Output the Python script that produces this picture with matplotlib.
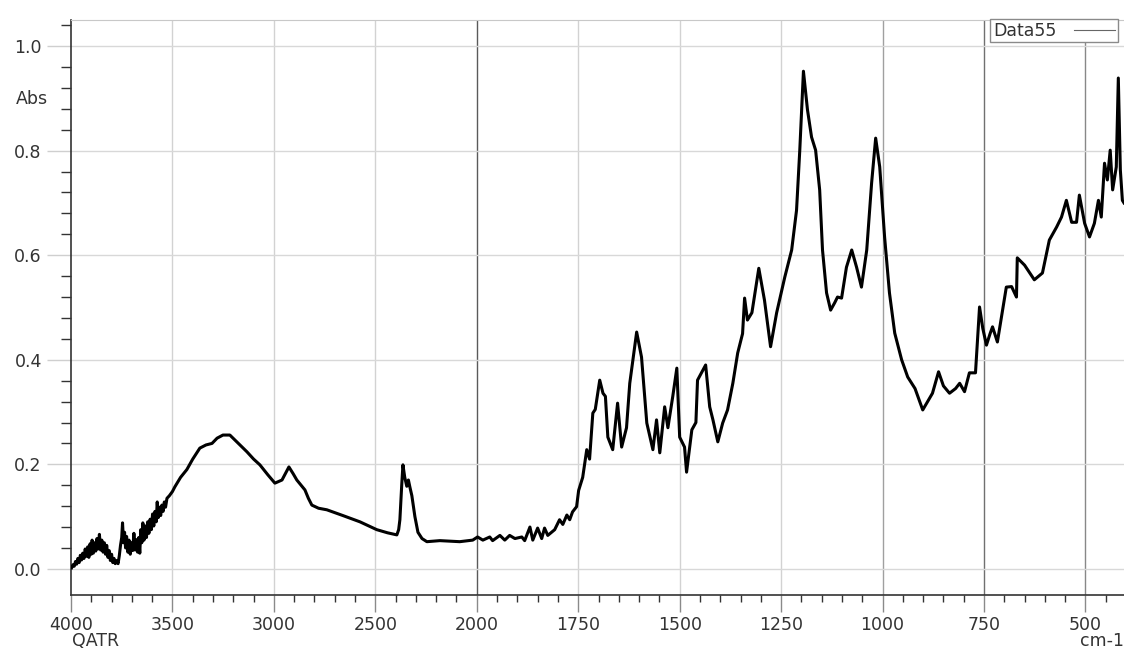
import numpy as np
import matplotlib
matplotlib.use("Agg")
import matplotlib.pyplot as plt
from matplotlib.lines import Line2D

# spectrum (cm-1, Abs)
wavenumber = [
    3997, 3990, 3984, 3978, 3972, 3966, 3960, 3954, 3948, 3942, 3936, 3930, 3924, 3918,
    3912, 3906, 3900, 3896, 3890, 3884, 3878, 3872, 3866, 3860, 3854, 3848, 3842, 3836,
    3830, 3824, 3818, 3812, 3806, 3800, 3794, 3788, 3782, 3776, 3768, 3762, 3756, 3750,
    3746, 3741, 3736, 3731, 3726, 3720, 3714, 3708, 3702, 3696, 3690, 3684, 3678, 3672,
    3666, 3661, 3656, 3651, 3646, 3640, 3634, 3628, 3622, 3616, 3610, 3604, 3598, 3592,
    3586, 3580, 3575, 3570, 3564, 3558, 3552, 3546, 3540, 3534, 3527, 3515, 3500, 3488,
    3460, 3429, 3400, 3365, 3335, 3305, 3280, 3251,
    3217, 3175, 3133, 3100, 3069, 3030, 2995, 2960, 2926, 2905, 2887, 2847, 2830, 2813,
    2780, 2739, 2660, 2576, 2493, 2440, 2394, 2385, 2379, 2370, 2364, 2355, 2345, 2337,
    2330, 2320, 2305, 2290, 2270, 2246, 2182, 2084, 2020, 1998, 1985, 1968, 1961, 1943,
    1931, 1919, 1906, 1889, 1882, 1869, 1862, 1850, 1840, 1833, 1825, 1808, 1796, 1788,
    1778, 1771, 1764, 1754, 1749, 1739, 1729, 1722, 1714, 1708, 1697, 1689, 1683, 1677,
    1665, 1653, 1643, 1631, 1623, 1606, 1594, 1581, 1566, 1557, 1549, 1537, 1529, 1517,
    1507, 1500, 1488, 1483, 1470, 1460, 1456, 1436, 1426, 1418, 1406, 1394, 1382, 1369,
    1357, 1345, 1340, 1333, 1322, 1305, 1291, 1276, 1261, 1241, 1224, 1212, 1204, 1195,
    1185, 1175, 1165, 1155, 1148, 1138, 1128, 1118, 1111, 1101, 1089, 1076, 1064, 1052,
    1039, 1027, 1017, 1007, 995, 983, 970, 953, 938, 920, 901, 877, 862, 850,
    835, 820, 810, 798, 786, 771, 761, 753, 744, 735, 729, 717, 695, 682,
    670, 668, 650, 626, 606, 589, 571, 559, 547, 534, 522, 515, 502, 490,
    478, 468, 461, 453, 446, 439, 433, 424, 419, 414, 409, 405,
]
absorbance = [
    0.002, 0.008, 0.005, 0.014, 0.009, 0.020, 0.012, 0.026, 0.017, 0.030, 0.020, 0.038, 0.024, 0.042,
    0.022, 0.048, 0.028, 0.055, 0.030, 0.050, 0.034, 0.058, 0.038, 0.066, 0.036, 0.055, 0.032, 0.050,
    0.028, 0.045, 0.022, 0.035, 0.016, 0.028, 0.012, 0.020, 0.010, 0.016, 0.010, 0.025, 0.045, 0.060,
    0.088, 0.050, 0.070, 0.040, 0.062, 0.032, 0.055, 0.028, 0.050, 0.035, 0.068, 0.036, 0.056, 0.032,
    0.060, 0.030, 0.075, 0.050, 0.088, 0.055, 0.082, 0.060, 0.090, 0.068, 0.095, 0.075, 0.105, 0.082,
    0.110, 0.090, 0.128, 0.098, 0.118, 0.102, 0.122, 0.110, 0.128, 0.118, 0.135, 0.140, 0.148, 0.157,
    0.175, 0.190, 0.210, 0.231, 0.237, 0.240, 0.250, 0.256,
    0.256, 0.240, 0.224, 0.210, 0.199, 0.180, 0.164, 0.170, 0.195, 0.182, 0.170, 0.151, 0.135, 0.122,
    0.116, 0.113, 0.102, 0.090, 0.075, 0.069, 0.065, 0.075, 0.094, 0.160, 0.199, 0.175, 0.158, 0.170,
    0.157, 0.140, 0.100, 0.070, 0.058, 0.052, 0.054, 0.052, 0.055, 0.061, 0.055, 0.061, 0.054, 0.064,
    0.055, 0.064, 0.058, 0.061, 0.054, 0.080, 0.055, 0.078, 0.058, 0.078, 0.064, 0.075, 0.094, 0.085,
    0.103, 0.094, 0.109, 0.119, 0.150, 0.175, 0.228, 0.210, 0.298, 0.305, 0.361, 0.336, 0.330, 0.252,
    0.228, 0.317, 0.233, 0.270, 0.355, 0.453, 0.405, 0.279, 0.228, 0.285, 0.222, 0.310, 0.270, 0.330,
    0.384, 0.252, 0.233, 0.185, 0.266, 0.280, 0.361, 0.390, 0.310, 0.285, 0.243, 0.279, 0.304, 0.355,
    0.413, 0.450, 0.518, 0.476, 0.490, 0.575, 0.514, 0.425, 0.490, 0.558, 0.610, 0.686, 0.801, 0.952,
    0.878, 0.826, 0.801, 0.725, 0.610, 0.528, 0.495, 0.509, 0.520, 0.518, 0.577, 0.610, 0.577, 0.539,
    0.610, 0.738, 0.824, 0.769, 0.635, 0.528, 0.451, 0.400, 0.367, 0.345, 0.304, 0.336, 0.377, 0.350,
    0.336, 0.345, 0.355, 0.339, 0.375, 0.375, 0.501, 0.460, 0.428, 0.450, 0.463, 0.434, 0.539, 0.540,
    0.520, 0.595, 0.581, 0.553, 0.566, 0.629, 0.654, 0.673, 0.705, 0.663, 0.663, 0.715, 0.661, 0.635,
    0.661, 0.705, 0.673, 0.776, 0.744, 0.801, 0.725, 0.769, 0.939, 0.763, 0.705, 0.700,
]

x_major = [4000, 3500, 3000, 2500, 2000, 1750, 1500, 1250, 1000, 750, 500]
y_major = [0.0, 0.2, 0.4, 0.6, 0.8, 1.0]
grid_colors = {3500: '#d2d2d2', 3000: '#d2d2d2', 2500: '#d2d2d2', 2000: '#5a5a5a',
               1750: '#d2d2d2', 1500: '#d2d2d2', 1250: '#d2d2d2', 1000: '#a0a0a0',
               750: '#707070', 500: '#888888'}


# below 2000 cm-1 the axis is stretched 2x, like the instrument software does
def fwd(x):
    x = np.asarray(x, dtype=float)
    return np.where(x >= 2000, x, 2 * x - 2000)


def inv(u):
    u = np.asarray(u, dtype=float)
    return np.where(u >= 2000, u, (u + 2000) / 2)


plt.rcParams['font.family'] = ['DejaVu Sans']
fig = plt.figure(figsize=(11.24, 6.48), dpi=100)
ax = fig.add_axes([71 / 1124, 1 - 595 / 648, 1 - 71 / 1124, (595 - 20) / 648])

ax.set_xscale('function', functions=(fwd, inv))
ax.set_xlim(4000, 405)
ax.set_ylim(-0.05, 1.05)

for xv in x_major[1:]:
    ax.axvline(xv, color=grid_colors[xv], lw=1.0, zorder=1)
for yv in y_major:
    ax.axhline(yv, color='#d8d8d8', lw=1.0, zorder=1)

ax.plot(wavenumber, absorbance, color='black', lw=2.2, zorder=3, label='Data55')

ax.set_xticks(x_major)
ax.set_xticklabels([str(v) for v in x_major])
ax.set_xticks(list(range(3900, 2000, -100)) + list(range(1950, 400, -50)), minor=True)
ax.set_yticks(y_major)
ax.set_yticklabels([f'{v:.1f}' for v in y_major])
ax.set_yticks(np.arange(0.04, 1.05, 0.04), minor=True)

ax.tick_params(axis='both', which='both', labelsize=12.5, labelcolor='#333333')
ax.tick_params(axis='x', which='major', length=12, width=1.0, color='#8a8a8a', pad=3)
ax.tick_params(axis='x', which='minor', length=5, width=1.0, color='#333333')
ax.tick_params(axis='y', which='major', length=17, width=1.0, color='#cfcfcf', pad=4)
ax.tick_params(axis='y', which='minor', length=7, width=1.0, color='#333333')

ax.spines['left'].set_color('#333333')
ax.spines['bottom'].set_color('#333333')
ax.spines['left'].set_linewidth(1.2)
ax.spines['bottom'].set_linewidth(1.2)
ax.spines['top'].set_color('#c8c8c8')
ax.spines['right'].set_visible(False)

fig.text(48 / 1124, 1 - 99 / 648, 'Abs', ha='right', va='center', fontsize=12.5, color='#333333')
fig.text(72 / 1124, 1 - 632 / 648, 'QATR', ha='left', va='top', fontsize=12.5, color='#333333')
fig.text(1080 / 1124, 1 - 632 / 648, 'cm-1', ha='left', va='top', fontsize=12.5, color='#333333')

proxy = Line2D([], [], color='#666666', lw=0.8)
leg = ax.legend(handles=[proxy], labels=['Data55'], markerfirst=False, loc='upper right',
                bbox_to_anchor=(1118 / 1124, 1 - 19 / 648), bbox_transform=fig.transFigure,
                fancybox=False, framealpha=1, edgecolor='#8a8a8a', fontsize=12.5,
                borderpad=0.15, handlelength=2.4, handletextpad=1.0, borderaxespad=0)
leg.get_frame().set_linewidth(1.0)
for t in leg.get_texts():
    t.set_color('#333333')

fig.savefig('out.png', dpi=100)
